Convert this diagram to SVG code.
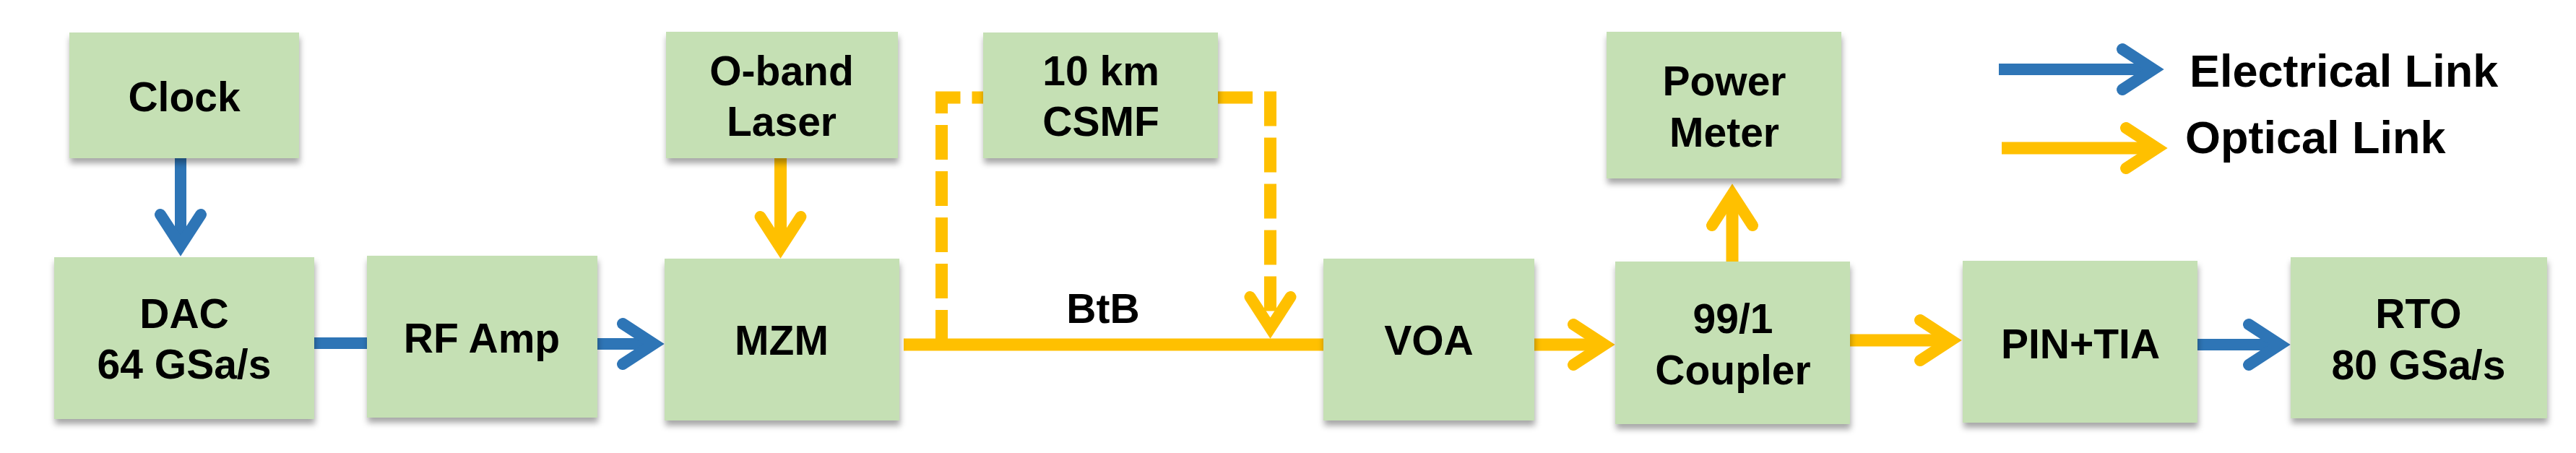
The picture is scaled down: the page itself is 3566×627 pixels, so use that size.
<svg xmlns="http://www.w3.org/2000/svg" width="3566" height="627" viewBox="0 0 3566 627">
  <style>
    .box { fill: #C5E0B4; filter: url(#shadow); }
    .lbl { font-family: "Liberation Sans", Arial, sans-serif; font-weight: bold; font-size: 57px; fill: #000; text-anchor: middle; }
    .leg { font-family: "Liberation Sans", Arial, sans-serif; font-weight: bold; font-size: 63px; fill: #000; }
    .el { stroke: #2E75B6; stroke-width: 16; fill: none; }
    .op { stroke: #FFC000; stroke-width: 17; fill: none; }
    .dash { stroke-dasharray: 48 16; }
  </style>
  <defs>
    <filter id="shadow" x="-10%" y="-10%" width="120%" height="130%">
      <feDropShadow dx="1" dy="7" stdDeviation="4" flood-color="#000" flood-opacity="0.35"/>
    </filter>
    <marker id="arrB" markerUnits="userSpaceOnUse" markerWidth="80" markerHeight="80" refX="0" refY="0" orient="auto" overflow="visible">
      <path d="M -43 -28 L 0 0 L -43 28" fill="none" stroke="#2E75B6" stroke-width="16" stroke-linecap="round" stroke-linejoin="miter"/>
    </marker>
    <marker id="arrY" markerUnits="userSpaceOnUse" markerWidth="80" markerHeight="80" refX="0" refY="0" orient="auto" overflow="visible">
      <path d="M -43 -28 L 0 0 L -43 28" fill="none" stroke="#FFC000" stroke-width="16" stroke-linecap="round" stroke-linejoin="miter"/>
    </marker>
  </defs>
  <rect width="3566" height="627" fill="#fff"/>

  <g id="connectors">
    <path class="el" d="M 250 219 V 340" marker-end="url(#arrB)"/>
    <path class="el" d="M 435 475 H 508"/>
    <path class="el" d="M 827 476 H 905" marker-end="url(#arrB)"/>
    <path class="op" d="M 1080.5 219 V 343" marker-end="url(#arrY)"/>
    <path class="op" d="M 1251 477 H 1832"/>
    <path class="op dash" d="M 1303.5 477 V 135 H 1361"/>
    <path class="op dash" d="M 1686 135 H 1758.5 V 454" marker-end="url(#arrY)"/>
    <path class="op" d="M 2124 477 H 2221" marker-end="url(#arrY)"/>
    <path class="op" d="M 2398 362 V 269" marker-end="url(#arrY)"/>
    <path class="op" d="M 2561 471 H 2701" marker-end="url(#arrY)"/>
    <path class="el" d="M 3042 477 H 3156" marker-end="url(#arrB)"/>
    <text class="lbl" x="1527" y="447">BtB</text>
  </g>

  <g id="legend">
    <path class="el" d="M 2767 96 H 2981" marker-end="url(#arrB)"/>
    <path class="op" d="M 2771 205 H 2986" marker-end="url(#arrY)"/>
    <text class="leg" x="3031" y="120">Electrical Link</text>
    <text class="leg" x="3025" y="212">Optical Link</text>
  </g>

  <g id="clock">
    <rect class="box" x="96" y="45" width="318" height="174"/>
    <text class="lbl" x="255" y="154">Clock</text>
  </g>
  <g id="laser">
    <rect class="box" x="922" y="44" width="321" height="175"/>
    <text class="lbl" x="1082" y="118">O-band</text>
    <text class="lbl" x="1082" y="188">Laser</text>
  </g>
  <g id="csmf">
    <rect class="box" x="1361" y="45" width="325" height="174"/>
    <text class="lbl" x="1524" y="118">10 km</text>
    <text class="lbl" x="1524" y="188">CSMF</text>
  </g>
  <g id="power-meter">
    <rect class="box" x="2224" y="44" width="325" height="203"/>
    <text class="lbl" x="2387" y="132">Power</text>
    <text class="lbl" x="2387" y="203">Meter</text>
  </g>
  <g id="dac">
    <rect class="box" x="75" y="356" width="360" height="224"/>
    <text class="lbl" x="255" y="454">DAC</text>
    <text class="lbl" x="255" y="524">64 GSa/s</text>
  </g>
  <g id="rf-amp">
    <rect class="box" x="508" y="354" width="319" height="224"/>
    <text class="lbl" x="667" y="488">RF Amp</text>
  </g>
  <g id="mzm">
    <rect class="box" x="920" y="358" width="325" height="224"/>
    <text class="lbl" x="1082" y="491">MZM</text>
  </g>
  <g id="voa">
    <rect class="box" x="1832" y="358" width="292" height="224"/>
    <text class="lbl" x="1978" y="491">VOA</text>
  </g>
  <g id="coupler">
    <rect class="box" x="2236" y="362" width="325" height="225"/>
    <text class="lbl" x="2399" y="461">99/1</text>
    <text class="lbl" x="2399" y="532">Coupler</text>
  </g>
  <g id="pin-tia">
    <rect class="box" x="2717" y="361" width="325" height="224"/>
    <text class="lbl" x="2880" y="496">PIN+TIA</text>
  </g>
  <g id="rto">
    <rect class="box" x="3171" y="356" width="355" height="223"/>
    <text class="lbl" x="3348" y="454">RTO</text>
    <text class="lbl" x="3348" y="525">80 GSa/s</text>
  </g>
</svg>
